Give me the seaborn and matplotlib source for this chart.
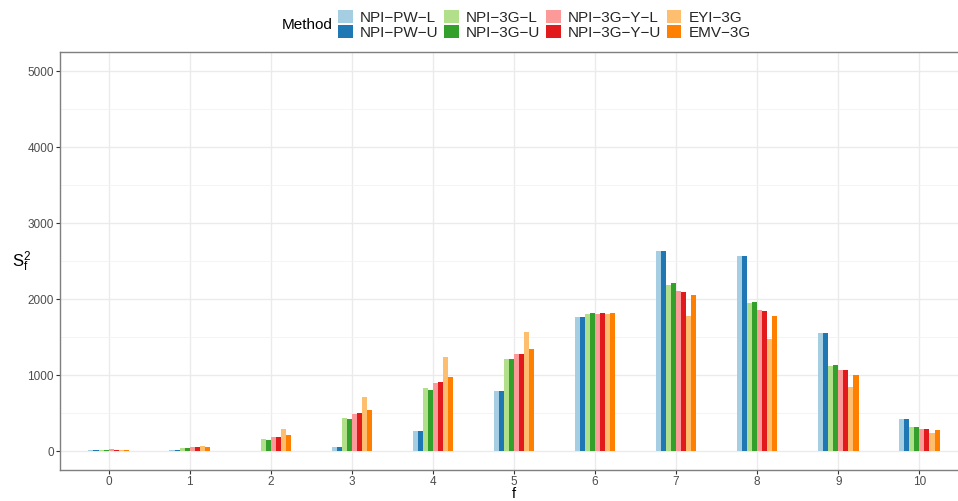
import numpy as np
import pandas as pd
import matplotlib
matplotlib.use("Agg")
import matplotlib.pyplot as plt
import seaborn as sns
from matplotlib.patches import Patch

f_vals = [0, 1, 2, 3, 4, 5, 6, 7, 8, 9, 10]
methods = ["NPI\u2212PW\u2212L", "NPI\u2212PW\u2212U", "NPI\u22123G\u2212L", "NPI\u22123G\u2212U",
           "NPI\u22123G\u2212Y\u2212L", "NPI\u22123G\u2212Y\u2212U", "EYI\u22123G", "EMV\u22123G"]

npi_pw_l = [9, 8, 5, 57, 259, 785, 1768, 2636, 2570, 1548, 417]
npi_pw_u = [9, 8, 5, 57, 259, 785, 1768, 2636, 2570, 1548, 417]
npi_3g_l = [9, 35, 162, 439, 825, 1206, 1807, 2189, 1952, 1114, 311]
npi_3g_u = [9, 35, 149, 425, 798, 1206, 1820, 2215, 1965, 1127, 311]
npi_3g_y_l = [22, 48, 189, 491, 890, 1272, 1807, 2110, 1860, 1061, 285]
npi_3g_y_u = [9, 48, 189, 504, 904, 1272, 1820, 2096, 1846, 1061, 285]
eyi_3g = [9, 70, 294, 715, 1232, 1561, 1807, 1781, 1478, 838, 232]
emv_3g = [9, 57, 215, 544, 969, 1338, 1820, 2057, 1781, 996, 272]

series = [npi_pw_l, npi_pw_u, npi_3g_l, npi_3g_u, npi_3g_y_l, npi_3g_y_u, eyi_3g, emv_3g]
colors = ["#A6CEE3", "#1F78B4", "#B2DF8A", "#33A02C", "#FB9A99", "#E31A1C", "#FDBF6F", "#FF7F00"]

rows = []
for m, vals in zip(methods, series):
    for f, v in zip(f_vals, vals):
        rows.append({"f": f, "value": v, "Method": m})
df = pd.DataFrame(rows)

sns.set_theme(style="white")
plt.rcParams["font.family"] = ["Liberation Sans", "DejaVu Sans"]

W, H = 958, 501
fig = plt.figure(figsize=(W / 100, H / 100), dpi=100)
ax = fig.add_axes([60 / W, 1 - 470 / H, (968 - 60) / W, (470 - 52.3) / H])

sns.barplot(data=df, x="f", y="value", hue="Method", hue_order=methods,
            palette=colors, width=0.5, saturation=1, dodge=True, ax=ax, legend=False,
            linewidth=0, errorbar=None)

ax.set_xlim(-0.6, 10.6)
ax.set_ylim(-250, 5250)
ax.set_yticks([0, 1000, 2000, 3000, 4000, 5000])
ax.set_yticks([500, 1500, 2500, 3500, 4500], minor=True)
ax.grid(True, which="major", color="#ebebeb", linewidth=1.0)
ax.grid(True, which="minor", axis="y", color="#f2f2f2", linewidth=0.6)
ax.set_axisbelow(True)

for s in ["left", "bottom", "top", "right"]:
    ax.spines[s].set_color("#7f7f7f")
    ax.spines[s].set_linewidth(1.0)

ax.tick_params(axis="both", which="major", length=3, width=0.8, color="#333333",
               labelsize=8.5, labelcolor="#4d4d4d", pad=1.5, bottom=True, left=True)
ax.tick_params(axis="y", which="minor", length=0)

ax.set_xlabel("f", fontsize=10.5, color="black")
ax.xaxis.set_label_coords((514 - 60) / 908, -17 / 417.7)
ax.set_ylabel(r"$\mathregular{S_f^2}$", fontsize=12, color="black", rotation=0, labelpad=0)
ax.yaxis.set_label_coords(-0.042, 0.47)

handles = [Patch(facecolor=c, edgecolor="none") for c in colors]
leg = fig.legend(handles, methods, ncol=4, loc="upper left",
                 bbox_to_anchor=(338 / W, 1 - 10 / H), frameon=False,
                 fontsize=11, handlelength=0.95, handleheight=0.95,
                 labelspacing=0.0, handletextpad=0.45, columnspacing=0.4,
                 borderpad=0, borderaxespad=0)
fig.text(333 / W, 1 - 25 / H, "Method", ha="right", va="center", fontsize=11, color="black")

fig.savefig("out.png", dpi=100)
